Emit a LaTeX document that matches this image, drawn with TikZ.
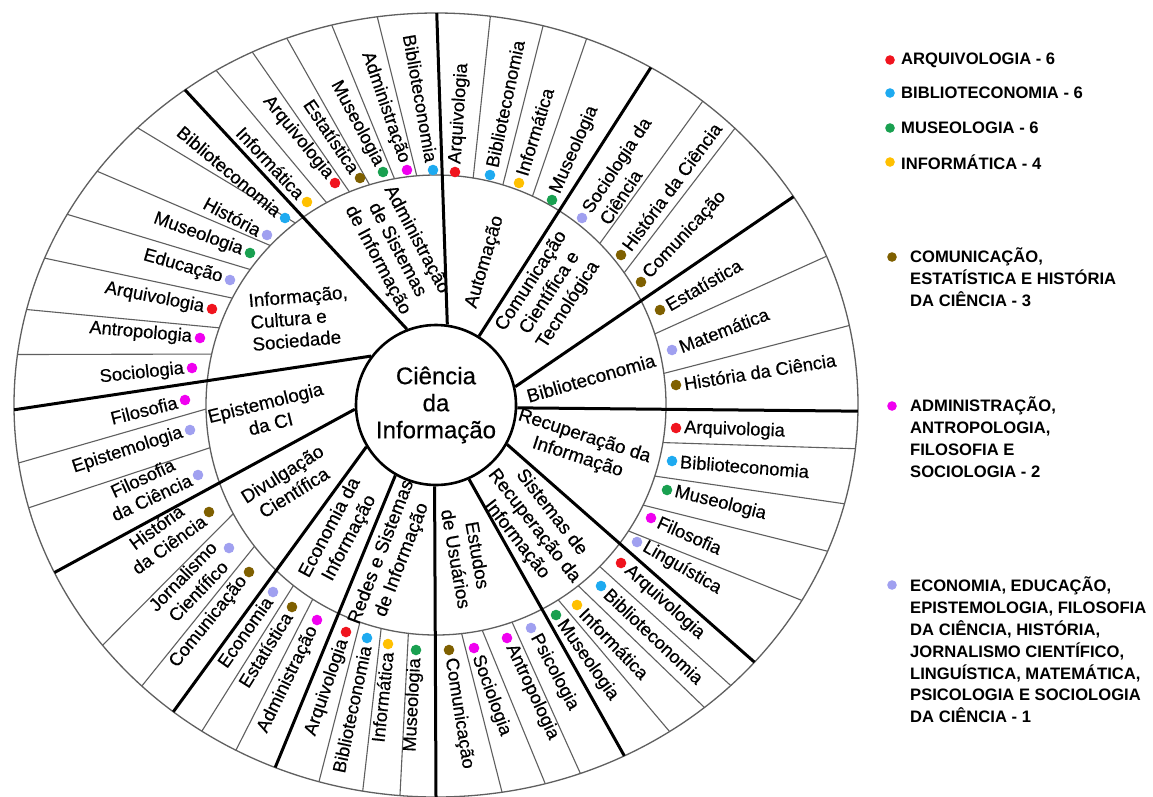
\documentclass[tikz,border=0pt]{standalone}
\usepackage{fontspec}
\setmainfont{Liberation Sans}
\newfontfamily\semib{Liberation Sans}[FakeBold=0.45]
\usetikzlibrary{calc}
\definecolor{cred}{RGB}{240,20,30}
\definecolor{cblue}{RGB}{30,170,240}
\definecolor{cgreen}{RGB}{25,160,80}
\definecolor{cyel}{RGB}{255,192,0}
\definecolor{cbrown}{RGB}{127,96,0}
\definecolor{cmag}{RGB}{240,0,240}
\definecolor{clav}{RGB}{160,160,240}
\definecolor{gline}{RGB}{95,95,95}
\tikzset{
  thinline/.style={draw=gline, line width=1.1},
  thickline/.style={draw=black, line width=3},
  sublabel/.style={inner sep=0, align=center, font=\semib\fontsize{18.3}{21.5}\selectfont},
  seclabel/.style={inner sep=0, align=center, font=\semib\fontsize{18.8}{22}\selectfont},
  leg/.style={anchor=west, inner sep=0, align=left, font=\bfseries\fontsize{16.6}{21.8}\selectfont},
}
\newcommand\subL[7]{%
  \fill[#4] (#1,-#2) circle[radius=5.3];
  \node[sublabel, anchor=east, rotate={#3-180}] (#7) at ($(#1,-#2)+(#3:8)+({#3-90}:#6)$) {#5};}
\newcommand\subR[7]{%
  \fill[#4] (#1,-#2) circle[radius=5.3];
  \node[sublabel, anchor=west, rotate={#3}] (#7) at ($(#1,-#2)+(#3:8)+({#3+90}:#6)$) {#5};}
\begin{document}
\begin{tikzpicture}[x=1pt,y=1pt]
\useasboundingbox (0,0) rectangle (1153,-796);
\fill[white] (0,0) rectangle (1153,-796);
\coordinate (O) at (436,-405);
% rings
\draw[thinline, line width=1.3] (O) ellipse [x radius=422, y radius=392];
\draw[thinline, line width=1.3] (O) circle [radius=230];
% thin separators of the outer ring
\foreach \a/\b in {94.8/98.0, 100.4/104.3, 106.8/110.7, 112.1/115.8, 118.4/121.4,
  127.7/135.0, 136.1/143.4, 143.9/150.9, 152.3/158.0, 160.4/165.9, 167.2/172.6,
  181.0/188.5, 190.7/195.2, 208.2/217.8, 217.9/225.8, 231.7/236.3, 237.6/241.7,
  250.7/253.9, 256.2/260.0, 263.1/265.1, 276.4/279.0, 281.6/285.0, 289.3/290.0,
  302.1/303.6, 308.2/309.5, 315.4/314.3, 326.8/330.1, 334.2/338.1, 342.0/345.4,
  350.6/353.6, 7.9/11.7, 18.0/22.3, 35.1/44.9, 44.6/50.8, 65.2/69.1, 73.1/75.3, 80.7/82.6}
  \draw[thinline] ($(O)+(\a:230)$) -- ($(O)+(\b:422 and 392)$);
% central node
\node[circle, draw=black, line width=2.6, minimum size=160, inner sep=0, fill=white,
  align=center, font=\semib\fontsize{24}{27}\selectfont] (ci) at (O) {Ciência\\da\\Informação};
% thick sector borders
\foreach \a/\b in {82/89.9, 111/126.5, 143/180.7, 183/205.3, 211/231.5, 240/247.6,
  269/270.0, 294/296.5, 331/319.0, 358/359.1, 13/32.1, 58/59.4}
  \draw[thickline] (ci.\a) -- ($(O)+(\b:422 and 392)$);
% sector labels
\node[seclabel, rotate=-62] (asi) at (397,-250) {Administração\\de Sistemas\\de Informação};
\node[seclabel, rotate=73.5] (aut) at (485,-262) {Automação};
\node[seclabel, rotate=57] (cct) at (550,-293) {Comunicação\\Científica e\\Tecnológica};
\node[seclabel, rotate=16] (bib) at (591,-378) {Biblioteconomia};
\node[seclabel, rotate=-18] (ri) at (581,-447) {Recuperação da\\Informação};
\node[seclabel, rotate=-52] (sri) at (534,-526) {Sistemas de\\Recuperação da\\Informação};
\node[seclabel, rotate=-80] (eu) at (467,-557) {Estudos\\de Usuários};
\node[seclabel, rotate=69] (rsi) at (392,-556) {Redes e Sistemas\\de Informação};
\node[seclabel, rotate=62] (eci) at (340,-533) {Economia da\\Informação};
\node[seclabel, rotate=32] (dc) at (288,-483) {Divulgação\\Científica};
\node[seclabel, rotate=14] (epi) at (268,-413) {Epistemologia\\da CI};
\node[seclabel, rotate=5, align=left] (ics) at (300,-318) {Informação,\\Cultura e\\Sociedade};
% sub-items, left half
\subL{433}{170}{100}{cblue}{Biblioteconomia}{0}{s1}
\subL{407}{170}{109}{cmag}{Administração}{0}{s2}
\subL{383}{172}{118}{cgreen}{Museologia}{0}{s3}
\subL{360}{178}{124}{cbrown}{Estatística}{0}{s4}
\subL{335}{183}{129}{cred}{Arquivologia}{0}{s5}
\subL{307}{202}{133}{cyel}{Informática}{0}{s6}
\subL{285}{218}{140}{cblue}{Biblioteconomia}{0}{s7}
\subL{267}{235}{152}{clav}{História}{0}{s8}
\subL{250}{253}{160}{cgreen}{Museologia}{0}{s9}
\subL{230}{280}{164}{clav}{Educação}{0}{s10}
\subL{212}{309}{169}{cred}{Arquivologia}{0}{s11}
\subL{200}{338}{175}{cmag}{Antropologia}{0}{s12}
\subL{192}{368}{186}{cmag}{Sociologia}{0}{s13}
\subL{185}{400}{194}{cmag}{Filosofia}{0}{s14}
\subL{190}{430}{198}{clav}{Epistemologia}{0}{s15}
\subL{198}{475}{205}{clav}{Filosofia\\da Ciência}{10}{s16}
\subL{209}{512}{216}{cbrown}{História\\da Ciência}{8}{s17}
\subL{229}{548}{226}{clav}{Jornalismo\\Científico}{3}{s18}
\subL{249}{572}{231}{cbrown}{Comunicação}{0}{s19}
\subL{273}{592}{235}{clav}{Economia}{0}{s20}
\subL{292}{607}{238}{cbrown}{Estatística}{0}{s21}
\subL{317}{620}{244}{cmag}{Administração}{0}{s22}
\subL{346}{632}{251}{cred}{Arquivologia}{0}{s23}
\subL{367}{638}{258}{cblue}{Biblioteconomia}{0}{s24}
\subL{388}{644}{264}{cyel}{Informática}{0}{s25}
\subL{416}{650}{267}{cgreen}{Museologia}{0}{s26}
% sub-items, right half
\subR{449}{650}{279}{cbrown}{Comunicação}{0}{s27}
\subR{474}{648}{290}{cmag}{Sociologia}{0}{s28}
\subR{507}{638}{295}{cmag}{Antropologia}{0}{s29}
\subR{531}{628}{298}{clav}{Psicologia}{0}{s30}
\subR{556}{615}{305}{cgreen}{Museologia}{0}{s31}
\subR{577}{605}{314}{cyel}{Informática}{0}{s32}
\subR{601}{586}{316.5}{cblue}{Biblioteconomia}{0}{s33}
\subR{621}{563}{318}{cred}{Arquivologia}{0}{s34}
\subR{637}{542}{330}{clav}{Linguística}{0}{s35}
\subR{651}{518}{336}{cmag}{Filosofia}{0}{s36}
\subR{667}{490}{346}{cgreen}{Museologia}{0}{s37}
\subR{672}{461}{355.6}{cblue}{Biblioteconomia}{0}{s38}
\subR{676}{428}{358}{cred}{Arquivologia}{0}{s39}
\subR{676}{385}{9}{cbrown}{História da Ciência}{0}{s40}
\subR{672}{350}{21}{clav}{Matemática}{0}{s41}
\subR{660}{310}{30}{cbrown}{Estatística}{0}{s42}
\subR{641}{282}{47}{cbrown}{Comunicação}{0}{s43}
\subR{621}{255}{53.4}{cbrown}{História da Ciência}{0}{s44}
\fill[clav] (582,-218) circle[radius=5.3];
\node[sublabel, align=left, anchor=west, rotate=56.5] (s45) at ($(582,-218)+(56.5:8)+(146.5:-10)$) {Sociologia da\\Ciência};
\subR{552}{200}{66}{cgreen}{Museologia}{0}{s46}
\subR{519}{183}{73}{cyel}{Informática}{0}{s47}
\subR{490}{175}{78}{cblue}{Biblioteconomia}{0}{s48}
\subR{455}{172}{86}{cred}{Arquivologia}{0}{s49}
% legend
\fill[cred] (890,-60) circle[radius=4.8];
\node[leg] (l1) at (901,-60) {ARQUIVOLOGIA - 6};
\fill[cblue] (890,-93) circle[radius=4.8];
\node[leg] (l2) at (901,-93) {BIBLIOTECONOMIA - 6};
\fill[cgreen] (890,-128) circle[radius=4.8];
\node[leg] (l3) at (901,-128) {MUSEOLOGIA - 6};
\fill[cyel] (890,-162) circle[radius=4.8];
\node[leg] (l4) at (901,-162) {INFORMÁTICA - 4};
\fill[cbrown] (892,-257) circle[radius=4.8];
\node[leg] (l5) at (910,-277) {COMUNICAÇÃO,\\ESTATÍSTICA E HISTÓRIA\\DA CIÊNCIA - 3};
\fill[cmag] (892,-406) circle[radius=4.8];
\node[leg] (l6) at (910,-437) {ADMINISTRAÇÃO,\\ANTROPOLOGIA,\\FILOSOFIA E\\SOCIOLOGIA - 2};
\fill[clav] (892,-585) circle[radius=4.8];
\node[leg] (l7) at (910,-650) {ECONOMIA, EDUCAÇÃO,\\EPISTEMOLOGIA, FILOSOFIA\\DA CIÊNCIA, HISTÓRIA,\\JORNALISMO CIENTÍFICO,\\LINGUÍSTICA, MATEMÁTICA,\\PSICOLOGIA E SOCIOLOGIA\\DA CIÊNCIA - 1};
\end{tikzpicture}
\end{document}
